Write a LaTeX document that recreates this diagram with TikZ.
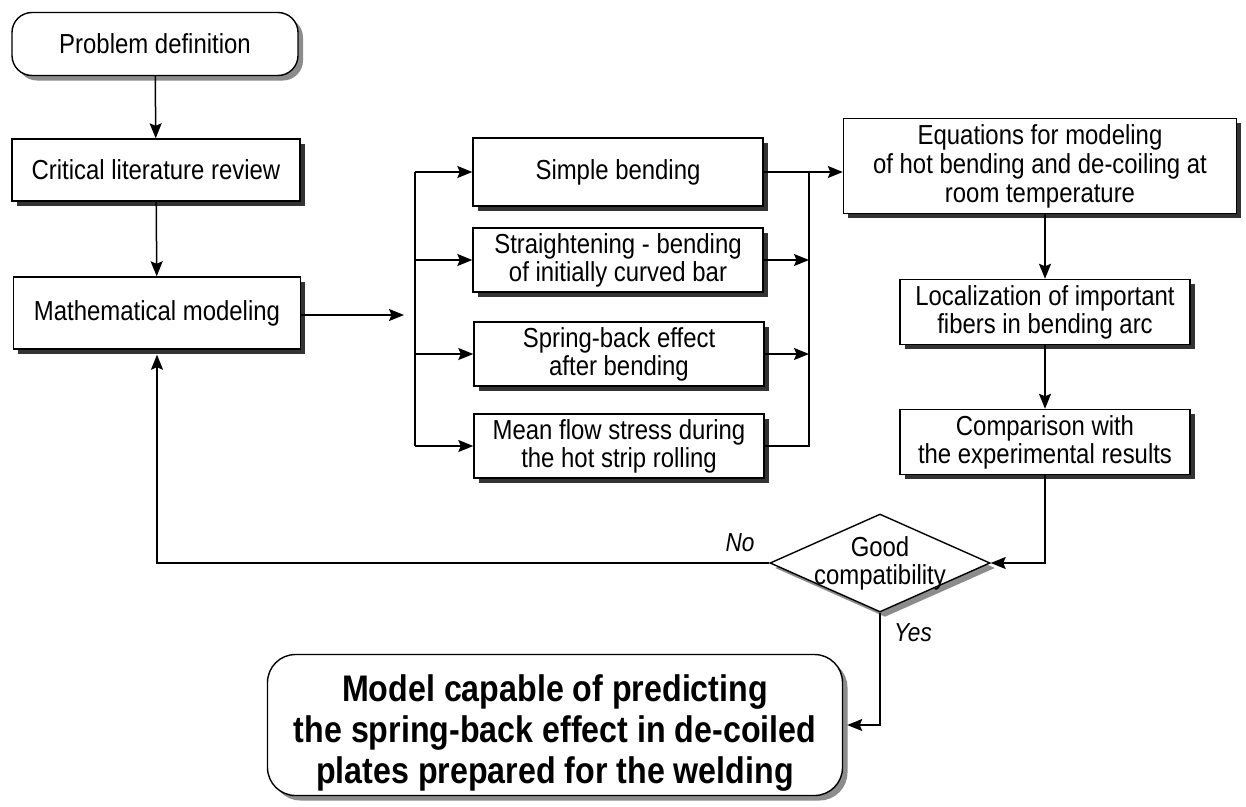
\documentclass[tikz,border=0pt]{standalone}
\usepackage{fontspec}
\setmainfont{Liberation Sans}
\newfontfamily\condfont[FakeStretch=0.87]{Liberation Sans}
\usetikzlibrary{arrows.meta,shapes.geometric,shadows}
\begin{document}
\begin{tikzpicture}[x=1pt,y=-1pt,
  every node/.style={font=\condfont\fontsize{27.5}{28}\selectfont},
  base/.style={draw, line width=1.4pt, fill=white, align=center, inner sep=0pt},
  darkshadow/.style={drop shadow={shadow xshift=4.5pt, shadow yshift=-4.5pt, fill=black!80, opacity=1}},
  lightshadow/.style={drop shadow={shadow xshift=5pt, shadow yshift=-5pt, fill=black!45, opacity=1}},
  box/.style={base, darkshadow},
  rbox/.style={base, lightshadow, rounded corners=20pt},
  conn/.style={line width=1.5pt},
  arr/.style={conn, -{Stealth[length=15pt,width=12pt,inset=2.5pt]}},
  lbl/.style={font=\condfont\fontsize{26}{28}\selectfont\itshape}
]
\useasboundingbox (0,0) rectangle (1246,806);

% left column
\node[rbox, minimum width=286pt, minimum height=63pt] (prob) at (155,44) {Problem definition};
\node[box, minimum width=288pt, minimum height=62pt] (crit) at (156,170) {Critical literature review};
\node[box, minimum width=287pt, minimum height=72pt] (math) at (157,313) {Mathematical modeling};

% middle column
\node[box, minimum width=290pt, minimum height=68pt] (sb) at (618,172) {Simple bending};
\node[box, minimum width=290pt, minimum height=64pt] (st) at (618,260) {Straightening - bending\\of initially curved bar};
\node[box, minimum width=290pt, minimum height=64pt] (sp) at (619,354) {Spring-back effect\\after bending};
\node[box, minimum width=290pt, minimum height=64pt] (mf) at (619,446) {Mean flow stress during\\the hot strip rolling};

% right column
\node[box, minimum width=393pt, minimum height=95pt, font=\condfont\fontsize{27.5}{29}\selectfont] (eq) at (1040,166) {Equations for modeling\\of hot bending and de-coiling at\\room temperature};
\node[box, minimum width=290pt, minimum height=65pt] (loc) at (1045,312) {Localization of important\\fibers in bending arc};
\node[box, minimum width=290pt, minimum height=65pt] (cmp) at (1045,442) {Comparison with\\the experimental results};

% decision
\node[diamond, draw, line width=1.4pt, fill=white, minimum width=220pt, minimum height=98pt, inner sep=0pt, lightshadow] (dec) at (880,563) {};
\node[align=center, inner sep=0pt] (dectext) at (dec) {Good\\compatibility};

% final
\node[base, lightshadow, rounded corners=28pt, minimum width=575pt, minimum height=141pt,
      font=\condfont\fontsize{37}{41}\selectfont\bfseries] (fin) at (555,725)
  {\raisebox{-16pt}[0pt][0pt]{\begin{tabular}{@{}c@{}}Model capable of predicting\\the spring-back effect in de-coiled\\plates prepared for the welding\end{tabular}}};

% bus coordinates
\coordinate (lin) at (404,315);
\coordinate (lbx) at (415,0);
\coordinate (rbx) at (809,0);

% connectors
\draw[arr] (prob) -- (crit);
\draw[arr] (crit) -- (math);
\draw[arr] (math.east |- lin) -- (lin);

\draw[conn] (sb.west -| lbx) -- (mf.west -| lbx);
\draw[arr] (sb.west -| lbx) -- (sb.west);
\draw[arr] (st.west -| lbx) -- (st.west);
\draw[arr] (sp.west -| lbx) -- (sp.west);
\draw[arr] (mf.west -| lbx) -- (mf.west);

\draw[conn] (mf.east) -- (mf.east -| rbx) -- (sb.east -| rbx);
\draw[arr] (sb.east) -- (sb.east -| eq.west);
\draw[arr] (st.east) -- (st.east -| rbx);
\draw[arr] (sp.east) -- (sp.east -| rbx);

\draw[arr] (eq.south -| loc.north) -- (loc.north);
\draw[arr] (loc) -- (cmp);
\draw[arr] (cmp.south) |- (dec.east);

\draw[arr, shorten >=5pt] (dec.west) -| (math.south);
\draw[arr, shorten >=4pt] (dec.south) |- (fin.east);

\node[lbl] (no) at (740,543) {No};
\node[lbl] (yes) at (913,633) {Yes};
\end{tikzpicture}
\end{document}
